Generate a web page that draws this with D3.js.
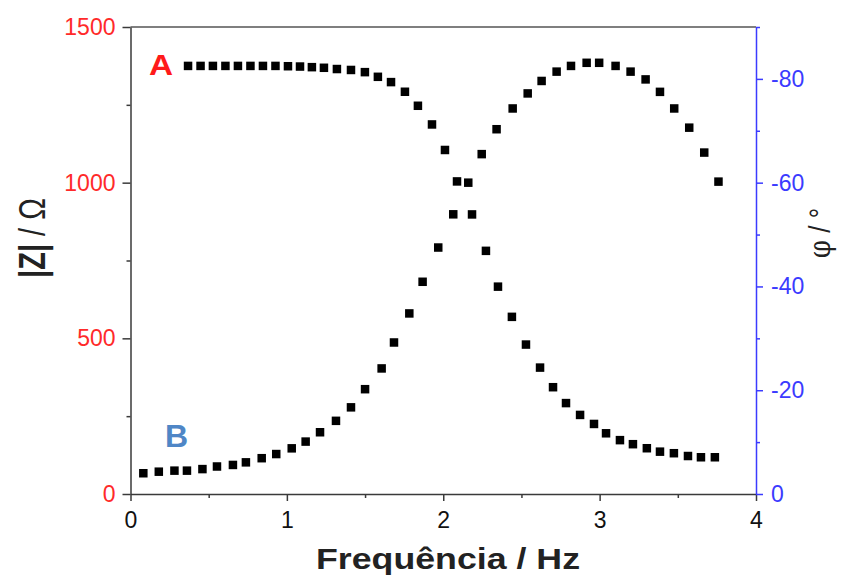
<!DOCTYPE html>
<html>
<head>
<meta charset="utf-8">
<script src="https://cdn.jsdelivr.net/npm/d3@7"></script>
<style>
  html, body { margin: 0; padding: 0; background: #ffffff; }
  svg { display: block; font-family: "Liberation Sans", Arial, sans-serif; }
</style>
</head>
<body>
<svg id="chart" width="842" height="577"></svg>
<script>
// Series A: |Z| (Ohm) vs log frequency
const freqA = [0.368, 0.448, 0.527, 0.607, 0.687, 0.767, 0.847, 0.927, 1.007, 1.084,
  1.160, 1.237, 1.320, 1.410, 1.499, 1.582, 1.666, 1.755, 1.838, 1.928,
  2.011, 2.088, 2.184, 2.273, 2.350, 2.439, 2.529, 2.619, 2.702, 2.785,
  2.875, 2.964, 3.041, 3.130, 3.213, 3.302, 3.386, 3.475, 3.565, 3.648, 3.737];
const zValues = [1375, 1375, 1375, 1375, 1375, 1375, 1375, 1375, 1374, 1373,
  1371, 1369, 1365, 1362, 1355, 1340, 1323, 1292, 1247, 1187,
  1105, 1004, 898, 781, 666, 569, 480, 406, 343, 292,
  254, 225, 195, 173, 160, 147, 136, 131, 122, 118, 118];

// Series B: phase (degrees) vs log frequency
const freqB = [0.082, 0.181, 0.281, 0.361, 0.460, 0.553, 0.655, 0.738, 0.839, 0.932,
  1.031, 1.120, 1.212, 1.314, 1.410, 1.500, 1.606, 1.685, 1.783, 1.868,
  1.968, 2.064, 2.160, 2.246, 2.341, 2.444, 2.540, 2.629, 2.725, 2.817,
  2.917, 2.997, 3.102, 3.198, 3.294, 3.386, 3.477, 3.573, 3.669, 3.760];
const phaseValues = [-4.0, -4.3, -4.5, -4.5, -4.8, -5.3, -5.6, -6.1, -6.9, -7.7,
  -8.8, -10.1, -11.9, -14.1, -16.7, -20.2, -24.2, -29.2, -34.8, -40.9,
  -47.5, -53.9, -60.0, -65.5, -70.3, -74.3, -77.2, -79.6, -81.4, -82.5,
  -83.1, -83.1, -82.5, -81.4, -79.9, -77.5, -74.3, -70.6, -65.8, -60.2];

const xTicks = [0, 1, 2, 3, 4];
const xMinor = [0.5, 1.5, 2.5, 3.5];
const zTicks = [0, 500, 1000, 1500];
const zMinor = [250, 750, 1250];
const phTicks = [0, -20, -40, -60, -80];
const phMinor = [-10, -30, -50, -70, -90];

const svg = d3.select("#chart");
const L = 130.5, R = 756, T = 27, B = 494;

const x = d3.scaleLinear().domain([0, 4]).range([L, R]);
const yZ = d3.scaleLinear().domain([0, 1500]).range([B, T]);
const yP = d3.scaleLinear().domain([0, -90]).range([B, T]);

const RED = "#ff2a2a", BLUE = "#3b3bff", AXC = "#3a3a3a";

// top frame line
svg.append("line").attr("x1", L).attr("x2", R).attr("y1", T).attr("y2", T)
  .attr("stroke", "#555").attr("stroke-width", 1.5);

function styleAxis(g, color, textColor, size) {
  g.select(".domain").attr("stroke", color).attr("stroke-width", 1.5);
  g.selectAll(".tick line").attr("stroke", color).attr("stroke-width", 1.5);
  g.selectAll(".tick text").attr("fill", textColor).attr("font-size", size)
    .attr("font-family", "Liberation Sans, Arial, sans-serif");
}

// bottom axis
const gx = svg.append("g").attr("transform", `translate(0,${B})`)
  .call(d3.axisBottom(x).tickValues(xTicks).tickFormat(d3.format("d")).tickSize(7).tickSizeOuter(0).tickPadding(11));
styleAxis(gx, AXC, "#111", 23);
const gxm = svg.append("g").attr("transform", `translate(0,${B})`)
  .call(d3.axisBottom(x).tickValues(xMinor).tickFormat("").tickSize(4).tickSizeOuter(0));
styleAxis(gxm, AXC, "#111", 23);
gxm.select(".domain").remove();

// left axis
const gy = svg.append("g").attr("transform", `translate(${L},0)`)
  .call(d3.axisLeft(yZ).tickValues(zTicks).tickFormat(d3.format("d")).tickSize(8).tickSizeOuter(0).tickPadding(7));
styleAxis(gy, AXC, RED, 23);
const gym = svg.append("g").attr("transform", `translate(${L},0)`)
  .call(d3.axisLeft(yZ).tickValues(zMinor).tickFormat("").tickSize(4).tickSizeOuter(0));
styleAxis(gym, AXC, RED, 23);
gym.select(".domain").remove();

// right axis
const gr = svg.append("g").attr("transform", `translate(${R},0)`)
  .call(d3.axisRight(yP).tickValues(phTicks).tickFormat(d3.format("d")).tickSize(7).tickSizeOuter(0).tickPadding(8));
styleAxis(gr, BLUE, BLUE, 23);
gr.selectAll(".tick text").text(d => d === 0 ? "0" : "-" + Math.abs(d));
const grm = svg.append("g").attr("transform", `translate(${R},0)`)
  .call(d3.axisRight(yP).tickValues(phMinor).tickFormat("").tickSize(4).tickSizeOuter(0));
styleAxis(grm, BLUE, BLUE, 23);
grm.select(".domain").remove();

// markers
const S = 8.5;
svg.append("g").selectAll("rect").data(freqA.map((f, i) => [f, zValues[i]])).join("rect")
  .attr("x", d => x(d[0]) - S / 2).attr("y", d => yZ(d[1]) - S / 2)
  .attr("width", S).attr("height", S).attr("fill", "#000");
svg.append("g").selectAll("rect").data(freqB.map((f, i) => [f, phaseValues[i]])).join("rect")
  .attr("x", d => x(d[0]) - S / 2).attr("y", d => yP(d[1]) - S / 2)
  .attr("width", S).attr("height", S).attr("fill", "#000");

// series labels
svg.append("text").attr("transform", "translate(149,75) scale(1.15,1)").attr("font-size", 29).attr("font-weight", "bold")
  .attr("fill", "#ff1a1a").text("A");
svg.append("text").attr("x", 165).attr("y", 447).attr("font-size", 32).attr("font-weight", "bold")
  .attr("fill", "#4f86c6").text("B");

// x title
svg.append("text").attr("x", 448).attr("y", 569).attr("text-anchor", "middle")
  .attr("font-size", 29).attr("font-weight", "bold").attr("fill", "#222")
  .attr("textLength", 264).attr("lengthAdjust", "spacingAndGlyphs")
  .text("Frequência / Hz");

// left title
const lt = svg.append("text").attr("transform", "translate(45,238) scale(1.3,1) rotate(-90)")
  .attr("text-anchor", "middle").attr("font-size", 29).attr("fill", "#222");
lt.append("tspan").attr("font-weight", "bold").text("|Z|");
lt.append("tspan").text(" / Ω");

// right title
const rt = svg.append("text").attr("transform", "translate(830,233) scale(1.15,1) rotate(-90)")
  .attr("text-anchor", "middle").attr("font-size", 26).attr("fill", "#222");
rt.append("tspan").attr("font-family", "DejaVu Serif, serif").text("φ");
rt.append("tspan").text(" / °");
</script>
</body>
</html>
